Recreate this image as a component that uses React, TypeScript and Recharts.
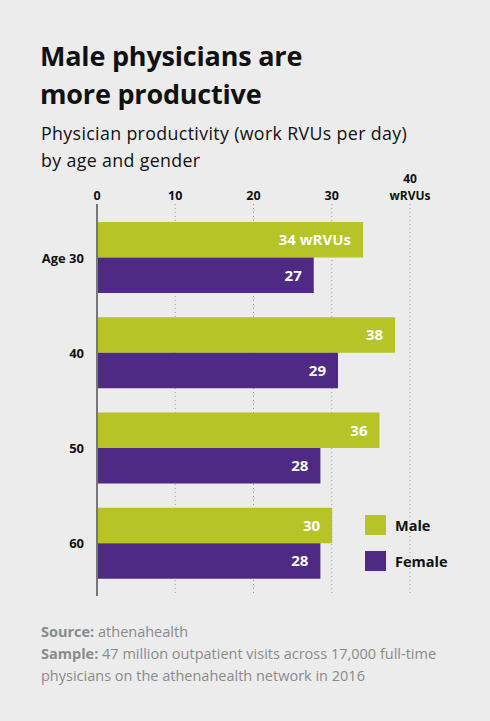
import React from "react";
import { BarChart, Bar, XAxis, YAxis, CartesianGrid, LabelList, Legend } from "recharts";

const categories = ["Age 30", "40", "50", "60"];
const maleValues = [34, 38.1, 36.1, 30.05];
const femaleValues = [27.7, 30.8, 28.55, 28.55];
const maleLabels = ["34 wRVUs", "38", "36", "30"];
const femaleLabels = ["27", "29", "28", "28"];
const seriesNames = ["Male", "Female"];
const xTicks = [0, 10, 20, 30, 40];
const xTickLabels = ["0", "10", "20", "30", "40"];
const unitLabel = "wRVUs";

const GREEN = "#b6c428";
const PURPLE = "#4f2a84";
const BG = "#ececec";
const FONT = "'Open Sans', sans-serif";

const data = categories.map((c, i) => ({
  category: c,
  male: maleValues[i],
  female: femaleValues[i],
  maleLabel: maleLabels[i],
  femaleLabel: femaleLabels[i],
}));

const XTick = (props: any) => {
  const { x, y, payload, index } = props;
  const i = xTicks.indexOf(payload.value);
  const label = xTickLabels[i >= 0 ? i : index];
  const isLast = payload.value === xTicks[xTicks.length - 1];
  const ty = y + 2;
  if (isLast) {
    return (
      <g>
        <text x={x} y={ty - 17} textAnchor="middle" fontFamily={FONT} fontWeight={700} fontSize={12} fill="#111">
          {label}
        </text>
        <text x={x} y={ty} textAnchor="middle" fontFamily={FONT} fontWeight={700} fontSize={12} fill="#111">
          {unitLabel}
        </text>
      </g>
    );
  }
  return (
    <text x={x} y={ty} textAnchor="middle" fontFamily={FONT} fontWeight={700} fontSize={12.5} fill="#111">
      {label}
    </text>
  );
};

const YTick = (props: any) => {
  const { x, y, payload } = props;
  return (
    <text x={x} y={y} dy={5} textAnchor="end" fontFamily={FONT} fontWeight={700} fontSize={13} fill="#111">
      {payload.value}
    </text>
  );
};

const LegendContent = (props: any) => {
  const items = [...(props.payload || [])].sort(
    (a: any, b: any) => seriesNames.indexOf(a.value) - seriesNames.indexOf(b.value)
  );
  return (
    <div>
      {items.map((p: any, i: number) => (
        <div key={i} style={{ display: "flex", alignItems: "center", height: 20, marginBottom: 16 }}>
          <div style={{ width: 21, height: 20, background: p.color, marginRight: 9 }} />
          <span style={{ fontFamily: FONT, fontWeight: 700, fontSize: 14.5, color: "#111" }}>{p.value}</span>
        </div>
      ))}
    </div>
  );
};

export default function App() {
  return (
    <div style={{ position: "fixed", top: 0, left: 0, width: 490, height: 721, background: BG, overflow: "hidden" }}>
      <div style={{ position: "absolute", left: 40, top: 37, fontFamily: FONT, fontWeight: 700, fontSize: 27, lineHeight: "38px", color: "#111", letterSpacing: -0.2 }}>
        Male physicians are
        <br />
        more productive
      </div>
      <div style={{ position: "absolute", left: 41, top: 120, fontFamily: FONT, fontWeight: 400, fontSize: 17.8, lineHeight: "27px", color: "#111", letterSpacing: 0.35 }}>
        Physician productivity (work RVUs per day)
        <br />
        by age and gender
      </div>
      <div style={{ position: "absolute", top: 0, left: 0 }}>
        <BarChart
          width={490}
          height={721}
          data={data}
          layout="vertical"
          margin={{ top: 174, right: 80, bottom: 125, left: 0 }}
          barGap={0}
          barSize={35.5}
        >
          <CartesianGrid horizontal={false} vertical={true} stroke="#9a9a9a" strokeDasharray="1 3" verticalValues={[10, 20, 30, 40]} />
          <XAxis
            type="number"
            orientation="top"
            domain={[0, 40]}
            ticks={xTicks}
            interval={0}
            axisLine={false}
            tickLine={false}
            tickMargin={0}
            tick={<XTick />}
            height={30}
          />
          <YAxis
            type="category"
            dataKey="category"
            width={97}
            axisLine={{ stroke: "#777", strokeWidth: 2 }}
            tickLine={false}
            tickMargin={7}
            tick={<YTick />}
            padding={{ top: 6, bottom: 5 }}
          />
          <Legend
            layout="vertical"
            align="center"
            verticalAlign="middle"
            wrapperStyle={{ left: 365, top: 515, width: 120 }}
            content={<LegendContent />}
          />
          <Bar dataKey="male" name={seriesNames[0]} fill={GREEN} isAnimationActive={false}>
            <LabelList dataKey="maleLabel" position="insideRight" offset={12} fill="#fff" fontFamily={FONT} fontWeight={700} fontSize={15} />
          </Bar>
          <Bar dataKey="female" name={seriesNames[1]} fill={PURPLE} isAnimationActive={false}>
            <LabelList dataKey="femaleLabel" position="insideRight" offset={12} fill="#fff" fontFamily={FONT} fontWeight={700} fontSize={15} />
          </Bar>
        </BarChart>
      </div>
      <div style={{ position: "absolute", left: 41, top: 621, fontFamily: FONT, fontSize: 14.5, lineHeight: "22px", color: "#8a8a8a" }}>
        <b>Source:</b> athenahealth
        <br />
        <b>Sample:</b> 47 million outpatient visits across 17,000 full-time
        <br />
        physicians on the athenahealth network in 2016
      </div>
    </div>
  );
}
